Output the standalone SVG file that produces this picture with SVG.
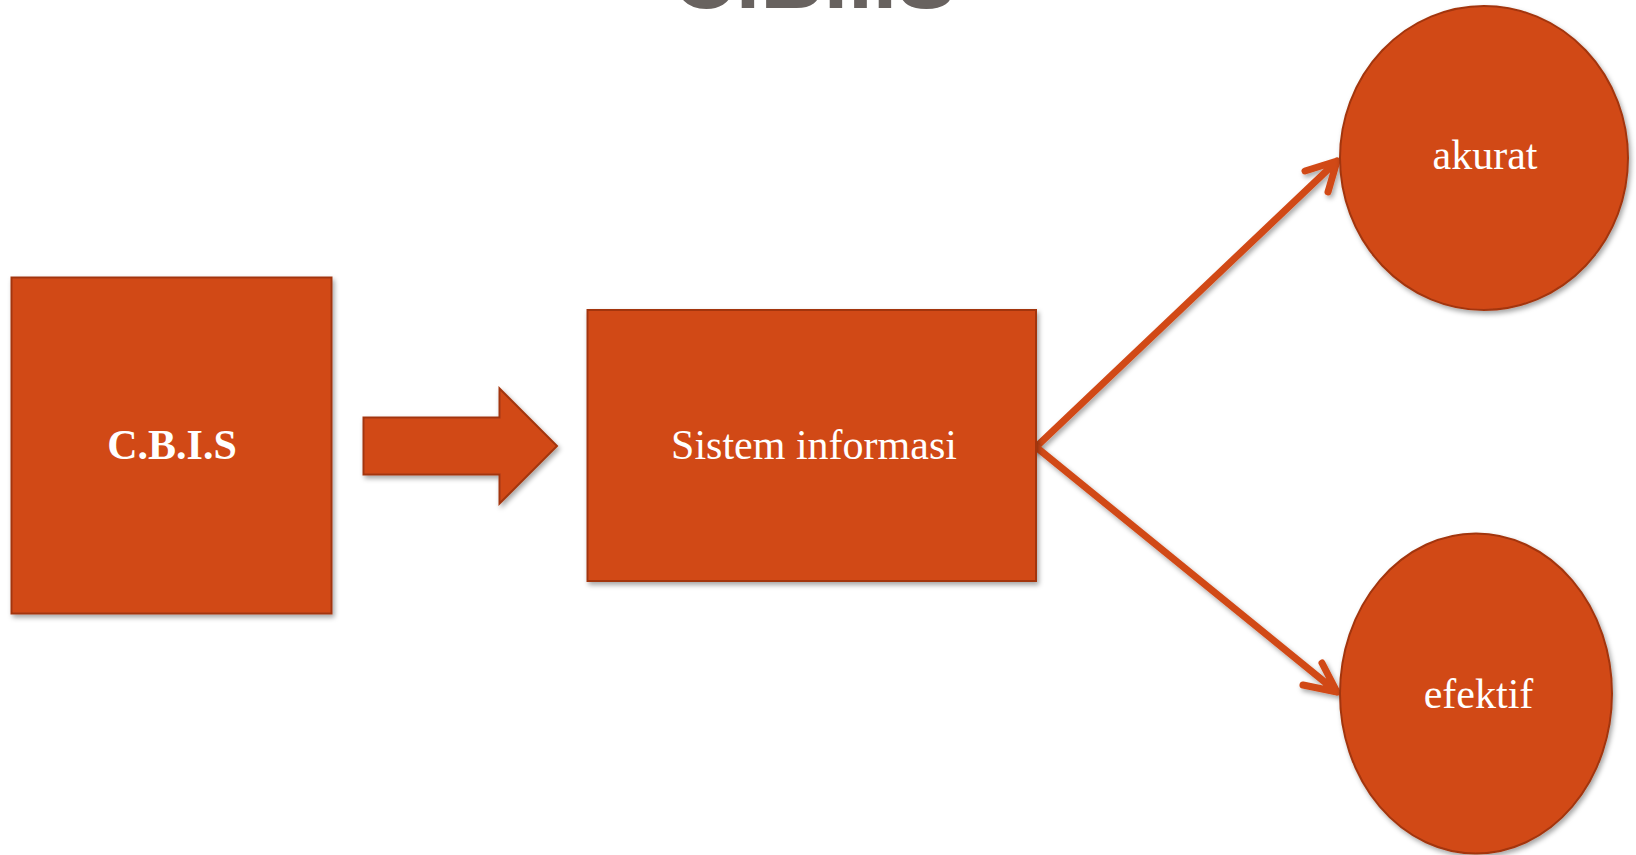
<svg xmlns="http://www.w3.org/2000/svg" width="1636" height="855" viewBox="0 0 1636 855">
<defs>
<style>
.shape{fill:#D14917;stroke:#A3360F;stroke-width:2;filter:url(#sh)}
.lbl{font-family:"Liberation Serif","Times New Roman",serif;font-size:42px;fill:#FFFFFF;text-anchor:middle}
.bold{font-weight:bold}
.conn{fill:none;stroke:#D14917;stroke-width:7;stroke-linecap:round;stroke-linejoin:round;filter:url(#sh)}
.title{font-family:"Liberation Sans",Arial,sans-serif;font-weight:bold;font-size:88px;fill:#68625F;text-anchor:middle}
</style>
<filter id="sh" x="-20%" y="-20%" width="140%" height="140%">
<feDropShadow dx="2" dy="3" stdDeviation="2.5" flood-color="#000" flood-opacity="0.35"/>
</filter>
</defs>
<rect width="1636" height="855" fill="#FFFFFF"/>
<text class="title" x="814" y="8">C.B.I.S</text>
<g id="connectors">
<path class="conn" d="M1036 447 L1337 161 M1305 171 L1337 161 L1328 192"/>
<path class="conn" d="M1036 447 L1337 692 M1303 685 L1337 692 L1322 663"/>
</g>
<g id="node-cbis">
<rect class="shape" x="11.5" y="277.5" width="320" height="336"/>
<text class="lbl bold" x="172" y="459">C.B.I.S</text>
</g>
<g id="node-arrow">
<polygon class="shape" points="363.5,417.5 499.5,417.5 499.5,388.5 557,446 499.5,503.5 499.5,474.5 363.5,474.5"/>
</g>
<g id="node-sistem">
<rect class="shape" x="587.5" y="310" width="448.5" height="271"/>
<text class="lbl" x="814" y="459">Sistem informasi</text>
</g>
<g id="node-akurat">
<ellipse class="shape" cx="1484" cy="158" rx="144" ry="152"/>
<text class="lbl" x="1485" y="169">akurat</text>
</g>
<g id="node-efektif">
<ellipse class="shape" cx="1476" cy="693.5" rx="136" ry="160"/>
<text class="lbl" x="1478.5" y="708">efektif</text>
</g>
</svg>
